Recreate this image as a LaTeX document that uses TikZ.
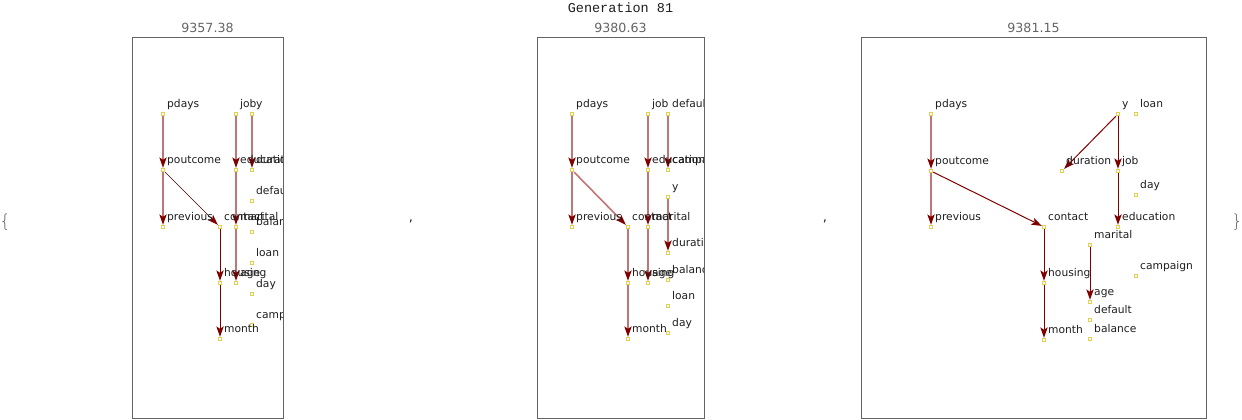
\documentclass[tikz,border=0pt]{standalone}
\usepackage{fontspec}
\setmainfont{DejaVu Sans}
\newfontfamily\monof{Liberation Mono}
\newfontfamily\lightf{DejaVu Sans ExtraLight}
\usetikzlibrary{arrows.meta,backgrounds}
\definecolor{rose}{RGB}{192,118,118}
\definecolor{dred}{RGB}{128,0,0}
\definecolor{darkline}{RGB}{70,0,0}
\definecolor{mkc}{RGB}{228,208,80}
\definecolor{txt}{RGB}{30,30,30}
\definecolor{framec}{RGB}{100,100,100}
\definecolor{scorec}{RGB}{100,100,100}
\newcommand\vtx[4]{\node[mk] (#1) at (#2,#3) {}; \node[lbl] (#1-l) at (#2+4,#3-7) {#4};}
\begin{document}
\begin{tikzpicture}[x=1pt,y=-1pt,
 mk/.style={draw=mkc,fill=white,line width=0.8pt,minimum size=3.6pt,inner sep=0pt,rectangle},
 lbl/.style={anchor=base west,inner sep=0pt,text=txt,font=\fontsize{10.7}{12}\selectfont},
 tip/.style={-{Stealth[length=10.5pt,width=7.5pt,inset=2.5pt,line width=0pt,color=dred]}},
 edge/.style={tip,draw=rose,line width=1.6pt},
 edged/.style={tip,draw=dred,line width=1.0pt},
 edget/.style={tip,draw=darkline,line width=0.7pt},
 frame/.style={draw=framec,line width=0.8pt},
 score/.style={anchor=base,inner sep=0pt,text=scorec,font=\fontsize{12.6}{14}\selectfont},
 brace/.style={anchor=base,inner sep=0pt,text=framec,font=\lightf\fontsize{18}{20}\selectfont},
 punct/.style={anchor=base,inner sep=0pt,text=txt,font=\fontsize{13}{14}\selectfont}]
\useasboundingbox (0,0) rectangle (1242,420);

% title
\node[anchor=base,inner sep=0pt,text=txt,font=\monof\fontsize{13.5}{15}\selectfont] (title) at (620.5,12.7) {Generation 81};

% braces and commas
\node[brace] (lbrace) at (5,227) {\{};
\node[brace] (rbrace) at (1237,227) {\}};
\node[punct] (comma1) at (411,221) {,};
\node[punct] (comma2) at (825,221) {,};

% scores
\node[score] (s1) at (207.5,32.3) {9357.38};
\node[score] (s2) at (620.5,32.3) {9380.63};
\node[score] (s3) at (1033.5,32.3) {9381.15};

% panel 1
\begin{scope}
\clip (132,37) rectangle (283,418);
\vtx{apdays}{163}{114}{pdays}
\vtx{ajob}{236}{114}{job}
\vtx{ay}{252}{114}{y}
\vtx{apoutcome}{163}{170}{poutcome}
\vtx{aeducation}{236}{170}{education}
\vtx{aduration}{252}{170}{duration}
\vtx{adefault}{252}{201}{default}
\vtx{aprevious}{163}{227}{previous}
\vtx{acontact}{220}{227}{contact}
\vtx{amarital}{236}{227}{marital}
\vtx{abalance}{252}{232}{balance}
\vtx{aloan}{252}{263}{loan}
\vtx{ahousing}{220}{283}{housing}
\vtx{aage}{236}{283}{age}
\vtx{aday}{252}{294}{day}
\vtx{acampaign}{252}{325}{campaign}
\vtx{amonth}{220}{339}{month}
\end{scope}
\draw[frame] (132,37) rectangle (283,418);

% panel 2
\begin{scope}
\clip (537,37) rectangle (704,418);
\vtx{bpdays}{572}{114}{pdays}
\vtx{bjob}{648}{114}{job}
\vtx{bdefault}{668}{114}{default}
\vtx{bpoutcome}{572}{170}{poutcome}
\vtx{beducation}{648}{170}{education}
\vtx{bcampaign}{668}{170}{campaign}
\vtx{by}{668}{197}{y}
\vtx{bprevious}{572}{227}{previous}
\vtx{bcontact}{628}{227}{contact}
\vtx{bmarital}{648}{227}{marital}
\vtx{bduration}{668}{253}{duration}
\vtx{bhousing}{628}{283}{housing}
\vtx{bage}{648}{283}{age}
\vtx{bbalance}{668}{280}{balance}
\vtx{bloan}{668}{306}{loan}
\vtx{bmonth}{628}{339}{month}
\vtx{bday}{668}{333}{day}
\end{scope}
\draw[frame] (537,37) rectangle (704,418);

% panel 3
\begin{scope}
\clip (861,37) rectangle (1206,418);
\vtx{cpdays}{931}{114}{pdays}
\vtx{cy}{1118}{114}{y}
\vtx{cloan}{1136}{114}{loan}
\vtx{cpoutcome}{931}{171}{poutcome}
\vtx{cduration}{1062}{171}{duration}
\vtx{cjob}{1118}{171}{job}
\vtx{cday}{1136}{195}{day}
\vtx{cprevious}{931}{227}{previous}
\vtx{ccontact}{1044}{227}{contact}
\vtx{ceducation}{1118}{227}{education}
\vtx{cmarital}{1090}{245}{marital}
\vtx{chousing}{1044}{283}{housing}
\vtx{ccampaign}{1136}{276}{campaign}
\vtx{cage}{1090}{302}{age}
\vtx{cdefault}{1090}{320}{default}
\vtx{cbalance}{1090}{339}{balance}
\vtx{cmonth}{1044}{340}{month}
\end{scope}
\draw[frame] (861,37) rectangle (1206,418);

\begin{pgfonlayer}{background}
% panel 1 edges
\draw[edge] (apdays) -- (apoutcome);
\draw[edge] (apoutcome) -- (aprevious);
\draw[edget] (apoutcome) -- (acontact);
\draw[edge] (ajob) -- (aeducation);
\draw[edge] (aeducation) -- (amarital);
\draw[edge] (amarital) -- (aage);
\draw[edge] (ay) -- (aduration);
\draw[edged] (acontact) -- (ahousing);
\draw[edged] (ahousing) -- (amonth);
% panel 2 edges
\draw[edge] (bpdays) -- (bpoutcome);
\draw[edge] (bpoutcome) -- (bprevious);
\draw[edge] (bpoutcome) -- (bcontact);
\draw[edge] (bjob) -- (beducation);
\draw[edge] (beducation) -- (bmarital);
\draw[edge] (bmarital) -- (bage);
\draw[edge] (bdefault) -- (bcampaign);
\draw[edge] (by) -- (bduration);
\draw[edge] (bcontact) -- (bhousing);
\draw[edge] (bhousing) -- (bmonth);
% panel 3 edges
\draw[edge] (cpdays) -- (cpoutcome);
\draw[edge] (cpoutcome) -- (cprevious);
\draw[edged] (cpoutcome) -- (ccontact);
\draw[edged] (cy) -- (cduration);
\draw[edged] (cy) -- (cjob);
\draw[edged] (cjob) -- (ceducation);
\draw[edged] (ccontact) -- (chousing);
\draw[edged] (chousing) -- (cmonth);
\draw[edged] (cmarital) -- (cage);
\end{pgfonlayer}
\end{tikzpicture}
\end{document}
